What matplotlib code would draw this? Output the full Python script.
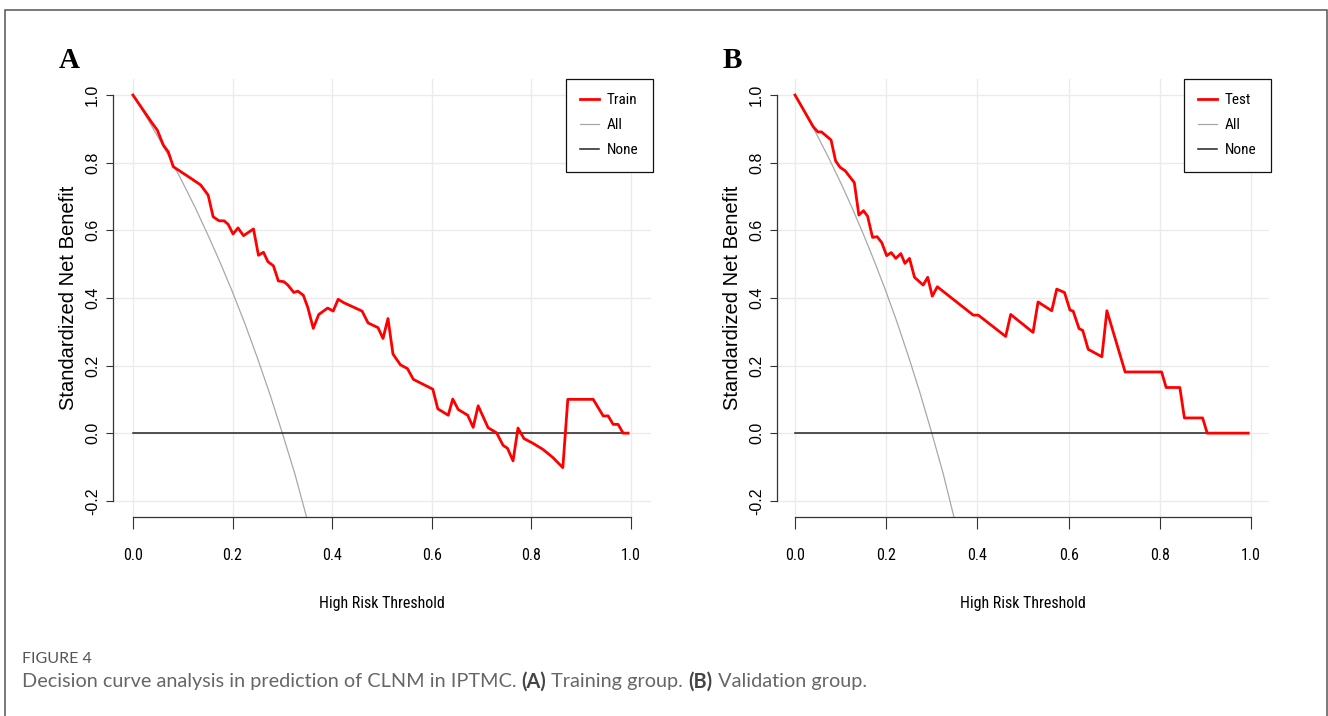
import matplotlib
matplotlib.use("Agg")
import matplotlib.pyplot as plt
from matplotlib import font_manager
from matplotlib.lines import Line2D
from matplotlib.patches import Rectangle

# decision curve, training set (panel A)
train_x = [0.0, 0.039, 0.049, 0.061, 0.071, 0.081, 0.116, 0.136, 0.151, 0.161, 0.173, 0.183,
           0.191, 0.201, 0.211, 0.222, 0.242, 0.252, 0.262, 0.271, 0.282, 0.292, 0.303, 0.311,
           0.323, 0.331, 0.342, 0.351, 0.362, 0.373, 0.391, 0.402, 0.412, 0.423, 0.460, 0.472,
           0.492, 0.502, 0.512, 0.522, 0.537, 0.551, 0.563, 0.602, 0.612, 0.633, 0.642, 0.653,
           0.672, 0.683, 0.693, 0.713, 0.730, 0.743, 0.752, 0.763, 0.773, 0.785, 0.803, 0.823,
           0.843, 0.863, 0.873, 0.924, 0.944, 0.954, 0.964, 0.974, 0.984, 0.994]
train_y = [1.0, 0.916, 0.896, 0.852, 0.832, 0.788, 0.754, 0.734, 0.704, 0.640, 0.628, 0.628,
           0.618, 0.589, 0.607, 0.584, 0.604, 0.526, 0.535, 0.507, 0.495, 0.450, 0.448, 0.438,
           0.416, 0.420, 0.408, 0.372, 0.310, 0.351, 0.370, 0.361, 0.396, 0.386, 0.361, 0.326,
           0.312, 0.280, 0.339, 0.234, 0.202, 0.191, 0.159, 0.130, 0.072, 0.053, 0.101, 0.070,
           0.053, 0.017, 0.081, 0.016, 0.001, -0.036, -0.045, -0.082, 0.015, -0.016, -0.030, -0.048,
           -0.072, -0.102, 0.100, 0.100, 0.051, 0.051, 0.026, 0.026, 0.0, 0.0]

# decision curve, validation set (panel B)
test_x = [0.0, 0.040, 0.050, 0.058, 0.079, 0.089, 0.099, 0.110, 0.130, 0.140, 0.150, 0.159,
          0.170, 0.180, 0.190, 0.201, 0.211, 0.221, 0.232, 0.241, 0.251, 0.262, 0.281, 0.291,
          0.301, 0.312, 0.391, 0.402, 0.462, 0.473, 0.522, 0.533, 0.563, 0.574, 0.591, 0.603,
          0.610, 0.623, 0.631, 0.643, 0.673, 0.684, 0.724, 0.804, 0.814, 0.844, 0.854, 0.894,
          0.904, 0.994]
test_y = [1.0, 0.906, 0.891, 0.891, 0.867, 0.805, 0.786, 0.776, 0.741, 0.645, 0.658, 0.642,
          0.579, 0.581, 0.564, 0.525, 0.534, 0.517, 0.531, 0.502, 0.517, 0.461, 0.438, 0.461,
          0.405, 0.433, 0.349, 0.349, 0.286, 0.351, 0.298, 0.388, 0.362, 0.426, 0.416, 0.364,
          0.361, 0.309, 0.304, 0.248, 0.226, 0.362, 0.181, 0.181, 0.135, 0.135, 0.045, 0.045,
          0.0, 0.0]

# treat-all and treat-none references
all_x = [0.0, 0.025, 0.05, 0.075, 0.1, 0.125, 0.15, 0.175, 0.2, 0.225, 0.25, 0.275, 0.3, 0.325, 0.35]
all_y = [1.0, 0.94, 0.877, 0.811, 0.741, 0.667, 0.588, 0.505, 0.417, 0.323, 0.222, 0.115, 0.0, -0.12, -0.256]
none_x = [0.0, 0.99]
none_y = [0.0, 0.0]

x_ticks = [0.0, 0.2, 0.4, 0.6, 0.8, 1.0]
y_ticks = [-0.2, 0.0, 0.2, 0.4, 0.6, 0.8, 1.0]

# pick a narrow face for the squeezed-looking R text if there is one
fonts = font_manager.fontManager.ttflist
names = {f.name for f in fonts}
narrow = dict(family="Liberation Sans")
for cand in ["Liberation Sans Narrow", "Roboto Condensed", "Open Sans Condensed", "Noto Sans Condensed"]:
    if cand in names:
        narrow = dict(family=cand)
        break
else:
    if any(f.name == "DejaVu Sans" and f.stretch == "condensed" for f in fonts):
        narrow = dict(family="DejaVu Sans", stretch="condensed")
    elif any(f.name == "Noto Sans" and f.stretch in ("condensed", "semi-condensed") for f in fonts):
        narrow = dict(family="Noto Sans", stretch="condensed")

W, H = 1328, 716

fig = plt.figure(figsize=(W / 100, H / 100), dpi=100)
fig.patch.set_facecolor("white")

# frame around the figure
fig.patches.append(Rectangle((5 / W, -0.05), 1322 / W, (H - 10) / H + 0.05,
                             transform=fig.transFigure, fill=False,
                             edgecolor="#555555", linewidth=1.1))


def panel(left_px, width_px, curve_x, curve_y, name, letter, letter_px):
    ax = fig.add_axes([left_px / W, (H - 517) / H, width_px / W, 438.2 / H])
    ax.set_xlim(-0.04, 1.04)
    ax.set_ylim(-0.248, 1.048)
    ax.set_xticks(x_ticks)
    ax.set_yticks(y_ticks)
    ax.set_xticklabels(["%.1f" % v for v in x_ticks], fontsize=11.5, **narrow)
    ax.set_yticklabels(["%.1f" % v for v in y_ticks], family="Liberation Sans",
                       fontsize=11.5, rotation=90, va="center")
    ax.grid(True, color="#ebebeb", linewidth=1)
    ax.set_axisbelow(True)
    for s in ["top", "right"]:
        ax.spines[s].set_visible(False)
    ax.spines["left"].set_bounds(-0.2, 1.0)
    ax.spines["bottom"].set_bounds(0.0, 1.0)
    for s in ["left", "bottom"]:
        ax.spines[s].set_color("#333333")
        ax.spines[s].set_linewidth(0.9)
    ax.tick_params(axis="x", direction="out", length=8.6, width=0.8, color="#333333", pad=13.5)
    ax.tick_params(axis="y", direction="out", length=4.7, width=0.8, color="#333333", pad=4.5)

    ax.plot(all_x, all_y, color="#a8a8a8", linewidth=0.9)
    ax.plot(none_x, none_y, color="#222222", linewidth=1.1)
    ax.plot(curve_x, curve_y, color="red", linewidth=2)

    ax.set_xlabel("High Risk Threshold", fontsize=11.5, **narrow)
    ax.xaxis.set_label_coords(0.5, -(596 - 517) / 438.2)
    ax.set_ylabel("Standardized Net Benefit", family="Liberation Sans", fontsize=14.5)
    ax.yaxis.set_label_coords(-35 / width_px, 0.5)

    handles = [Line2D([], [], color="red", linewidth=2),
               Line2D([], [], color="#a8a8a8", linewidth=0.9),
               Line2D([], [], color="#222222", linewidth=1.1)]
    leg_prop = dict(size=11)
    leg_prop.update(narrow)
    leg = ax.legend(handles, [name, "All", "None"], loc="upper right",
                    bbox_to_anchor=(1.0 + 2 / width_px, 1.0), borderaxespad=0,
                    prop=leg_prop, fancybox=False,
                    edgecolor="#111111", framealpha=1, borderpad=0.95,
                    handlelength=1.25, handletextpad=0.5, labelspacing=0.72)
    leg.get_frame().set_linewidth(0.9)

    fig.text(letter_px / W, 1 - 61 / H, letter, family="Liberation Serif",
             weight="bold", fontsize=21, ha="center", va="center")
    return ax


panel(113, 538, train_x, train_y, "Train", "A", 69)
panel(776.8, 492.4, test_x, test_y, "Test", "B", 732)

# caption
cap_font = ["Lato", "DejaVu Sans"]
fig.text(22 / W, 1 - 659 / H, "FIGURE 4", family=cap_font, fontsize=11.5,
         color="#555555", va="center")

fig.canvas.draw()
renderer = fig.canvas.get_renderer()
pieces = [("Decision curve analysis in prediction of CLNM in IPTMC. ", "normal", "#666666"),
          ("(A)", "bold", "#444444"),
          (" Training group. ", "normal", "#666666"),
          ("(B)", "bold", "#444444"),
          (" Validation group.", "normal", "#666666")]
x = 22
for txt, wt, col in pieces:
    t = fig.text(x / W, 1 - 682 / H, txt, family=cap_font, fontsize=14.3,
                 weight=wt, color=col, va="center")
    x += t.get_window_extent(renderer).width

fig.savefig("out.png", dpi=100, facecolor="white")
